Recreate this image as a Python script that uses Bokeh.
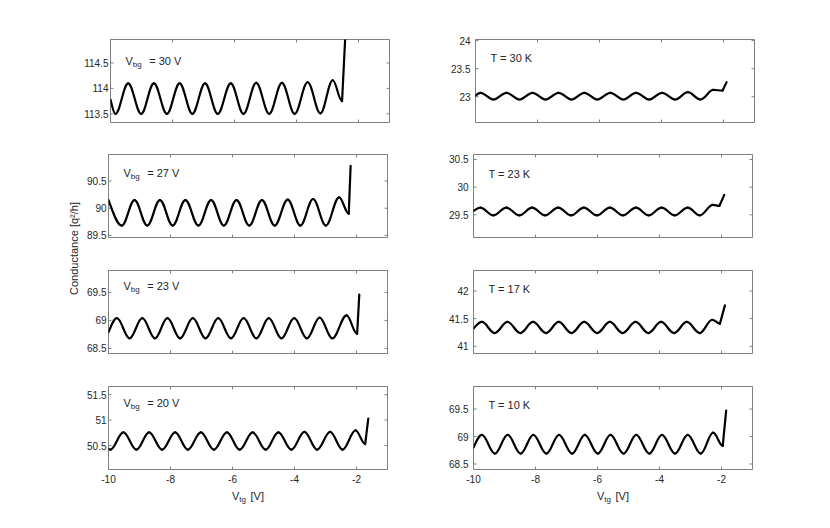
import numpy as np
from bokeh.plotting import figure
from bokeh.models import Label, FixedTicker, Range1d
from bokeh.core.properties import value
from bokeh.layouts import row, column
from bokeh.embed import file_html
from bokeh.resources import INLINE

# ---------------- data (turning points) ----------------
x_ticks = [-10, -8, -6, -4, -2]
x_range_v = [-10, -1]

vbg_values = ["30", "27", "23", "20"]
temp_values = ["30", "23", "17", "10"]

# V_bg = 30 V
vbg30_x = [-10.00, -9.84, -9.43, -9.01, -8.60, -8.18, -7.77, -7.36, -6.95, -6.54, -6.12,
           -5.71, -5.30, -4.88, -4.47, -4.06, -3.64, -3.23, -2.83, -2.53, -2.42]
vbg30_y = [113.78, 113.50, 114.10, 113.50, 114.10, 113.50, 114.10, 113.50, 114.10, 113.50, 114.10,
           113.50, 114.11, 113.50, 114.11, 113.50, 114.12, 113.51, 114.16, 113.75, 115.10]
# V_bg = 27 V
vbg27_x = [-10.00, -9.57, -9.16, -8.75, -8.34, -7.93, -7.52, -7.10, -6.69, -6.28, -5.87,
           -5.46, -5.05, -4.64, -4.22, -3.81, -3.40, -2.99, -2.56, -2.25, -2.19]
vbg27_y = [90.15, 89.68, 90.15, 89.68, 90.15, 89.68, 90.15, 89.68, 90.15, 89.68, 90.15,
           89.68, 90.15, 89.68, 90.16, 89.68, 90.17, 89.68, 90.20, 89.90, 90.78]
# V_bg = 23 V
vbg23_x = [-10.00, -9.73, -9.32, -8.91, -8.50, -8.10, -7.69, -7.28, -6.87, -6.46, -6.05,
           -5.64, -5.23, -4.83, -4.42, -4.01, -3.60, -3.19, -2.78, -2.32, -1.98, -1.91]
vbg23_y = [68.79, 69.04, 68.68, 69.04, 68.68, 69.04, 68.68, 69.04, 68.68, 69.04, 68.68,
           69.04, 68.68, 69.04, 68.68, 69.04, 68.68, 69.05, 68.68, 69.09, 68.76, 69.46]
# V_bg = 20 V
vbg20_x = [-10.00, -9.94, -9.52, -9.10, -8.69, -8.27, -7.85, -7.44, -7.02, -6.60, -6.18, -5.77,
           -5.35, -4.93, -4.52, -4.10, -3.68, -3.27, -2.85, -2.45, -2.03, -1.72, -1.62]
vbg20_y = [50.43, 50.42, 50.76, 50.42, 50.76, 50.42, 50.76, 50.42, 50.76, 50.42, 50.76, 50.42,
           50.76, 50.42, 50.76, 50.42, 50.77, 50.42, 50.77, 50.42, 50.80, 50.53, 51.03]
# T = 30 K
t30_x = [-10.00, -9.84, -9.42, -9.00, -8.58, -8.16, -7.74, -7.32, -6.90, -6.49, -6.07,
         -5.65, -5.23, -4.82, -4.40, -3.98, -3.56, -3.15, -2.74, -2.33, -2.03, -1.90]
t30_y = [23.02, 23.07, 22.95, 23.07, 22.95, 23.07, 22.95, 23.07, 22.95, 23.07, 22.95,
         23.07, 22.95, 23.07, 22.95, 23.07, 22.95, 23.08, 22.95, 23.12, 23.11, 23.26]
# T = 23 K
t23_x = [-10.00, -9.78, -9.36, -8.94, -8.52, -8.11, -7.69, -7.27, -6.85, -6.44, -6.02,
         -5.60, -5.18, -4.76, -4.35, -3.93, -3.51, -3.09, -2.70, -2.28, -2.07, -1.91]
t23_y = [29.57, 29.63, 29.49, 29.63, 29.49, 29.63, 29.49, 29.63, 29.49, 29.63, 29.49,
         29.63, 29.49, 29.63, 29.49, 29.63, 29.49, 29.63, 29.49, 29.68, 29.66, 29.86]
# T = 17 K
t17_x = [-10.00, -9.73, -9.32, -8.90, -8.49, -8.08, -7.66, -7.25, -6.84, -6.43, -6.01,
         -5.60, -5.19, -4.77, -4.36, -3.95, -3.53, -3.12, -2.70, -2.30, -2.05, -1.89]
t17_y = [41.32, 41.44, 41.24, 41.44, 41.24, 41.44, 41.24, 41.44, 41.24, 41.44, 41.24,
         41.44, 41.24, 41.44, 41.24, 41.44, 41.24, 41.44, 41.24, 41.48, 41.41, 41.74]
# T = 10 K
t10_x = [-10.00, -9.73, -9.31, -8.90, -8.48, -8.07, -7.65, -7.24, -6.82, -6.41, -5.99,
         -5.58, -5.16, -4.75, -4.33, -3.92, -3.50, -3.09, -2.67, -2.27, -1.96, -1.85]
t10_y = [68.80, 69.03, 68.69, 69.03, 68.69, 69.03, 68.69, 69.03, 68.69, 69.03, 68.69,
         69.03, 68.69, 69.03, 68.69, 69.03, 68.69, 69.03, 68.69, 69.07, 68.83, 69.47]

# y-limits and y-ticks of each panel
vbg_ylims = [[113.33, 114.96], [89.46, 90.99], [68.41, 69.89], [50.03, 51.66]]
vbg_yticks = [[113.5, 114, 114.5], [89.5, 90, 90.5], [68.5, 69, 69.5], [50.5, 51, 51.5]]
t_ylims = [[22.54, 24.02], [29.09, 30.59], [40.87, 42.37], [68.40, 69.91]]
t_yticks = [[23, 23.5, 24], [29.5, 30, 30.5], [41, 41.5, 42], [68.5, 69, 69.5]]

vbg_series = [(vbg30_x, vbg30_y), (vbg27_x, vbg27_y), (vbg23_x, vbg23_y), (vbg20_x, vbg20_y)]
t_series = [(t30_x, t30_y), (t23_x, t23_y), (t17_x, t17_y), (t10_x, t10_y)]

# ---------------- styling / layout ----------------
FONT = "Liberation Sans"
TXT = "#262626"
BOX = "#808080"
FW, FH = 279, 83
K = 0.364
TICK_PX = 3
LAB_W = 81
L_LEFT, L_RIGHT = 27, 8
R_LEFT, R_RIGHT = 78, 8
STRIP_H = 20

borders_tb = [(39, 9), (23, 9), (24, 9), (24, 20)]
vbg_label_dy = [21, 18, 15, 16]
t_label_dy = [18, 19, 18, 18]


def draw_curve(p, xs, ys):
    xs = np.asarray(xs, dtype=float)
    ys = np.asarray(ys, dtype=float)
    x0, x1 = xs[:-2], xs[1:-1]
    y0, y1 = ys[:-2], ys[1:-1]
    dx = x1 - x0
    cy0 = y0.copy()
    cy0[0] = y0[0] + 0.5 * (y1[0] - y0[0])
    p.bezier(x0=x0, y0=y0, x1=x1, y1=y1, cx0=x0 + K * dx, cy0=cy0,
             cx1=x1 - K * dx, cy1=y1.copy(), line_color="black", line_width=2.2,
             line_cap="round")
    p.line(xs[-2:], ys[-2:], line_color="black", line_width=2.2, line_cap="round")


def make_panel(xs, ys, ylim, yticks, top, bottom, left_border, right_border, standoff, last_row):
    p = figure(frame_width=FW, frame_height=FH,
               x_range=Range1d(*x_range_v), y_range=Range1d(*ylim),
               output_backend="svg", toolbar_location=None,
               min_border_left=left_border, min_border_right=right_border,
               min_border_top=top, min_border_bottom=bottom,
               x_axis_location="below" if last_row else None)
    p.xgrid.visible = False
    p.ygrid.visible = False
    p.outline_line_color = BOX
    p.outline_line_width = 1
    p.background_fill_color = "white"
    p.border_fill_color = "white"

    ya = p.yaxis[0]
    ya.ticker = FixedTicker(ticks=yticks)
    ya.major_label_overrides = {float(t): f"{t:g}" for t in yticks}
    ya.major_tick_in = 0
    ya.major_tick_out = 0
    ya.minor_tick_line_color = None
    ya.axis_line_color = None
    ya.major_label_text_font = FONT
    ya.major_label_text_font_size = "10px"
    ya.major_label_text_color = TXT
    ya.major_label_standoff = standoff
    if last_row:
        xa = p.xaxis[0]
        xa.ticker = FixedTicker(ticks=x_ticks)
        xa.major_label_overrides = {t: f"{t:d}" for t in x_ticks}
        xa.major_tick_in = 0
        xa.major_tick_out = 0
        xa.minor_tick_line_color = None
        xa.axis_line_color = None
        xa.major_label_text_font = FONT
        xa.major_label_text_font_size = "10px"
        xa.major_label_text_color = TXT
        xa.major_label_standoff = 5

    # inward ticks on all four sides
    xr0, xr1 = x_range_v
    yr0, yr1 = ylim
    ddx = TICK_PX * (xr1 - xr0) / FW
    ddy = TICK_PX * (yr1 - yr0) / FH
    n = len(x_ticks)
    p.segment(x0=x_ticks, y0=[yr0] * n, x1=x_ticks, y1=[yr0 + ddy] * n, line_color=BOX, line_width=1)
    p.segment(x0=x_ticks, y0=[yr1] * n, x1=x_ticks, y1=[yr1 - ddy] * n, line_color=BOX, line_width=1)
    m = len(yticks)
    p.segment(x0=[xr0] * m, y0=yticks, x1=[xr0 + ddx] * m, y1=yticks, line_color=BOX, line_width=1)
    p.segment(x0=[xr1] * m, y0=yticks, x1=[xr1 - ddx] * m, y1=yticks, line_color=BOX, line_width=1)

    draw_curve(p, xs, ys)
    return p


def make_strip(left_border, right_border):
    s = figure(frame_width=FW, frame_height=STRIP_H, x_range=Range1d(*x_range_v),
               y_range=Range1d(0, STRIP_H), x_axis_type=None, y_axis_type=None,
               output_backend="svg", toolbar_location=None,
               min_border_left=left_border, min_border_right=right_border,
               min_border_top=0, min_border_bottom=0)
    s.outline_line_color = None
    s.xgrid.visible = False
    s.ygrid.visible = False
    xc = (x_range_v[0] + x_range_v[1]) / 2
    common = dict(text_font=value(FONT), text_color=TXT, text_baseline="middle")
    s.text(x=[xc], y=[STRIP_H - 6], text=["V"], x_offset=-16, text_font_size="11px", **common)
    s.text(x=[xc], y=[STRIP_H - 10], text=["tg"], x_offset=-8.7, text_font_size="8px", **common)
    s.text(x=[xc], y=[STRIP_H - 6], text=["[V]"], x_offset=2.5, text_font_size="11px", **common)
    return s


rows = []
for i in range(4):
    top, bottom = borders_tb[i]
    last = i == 3
    lx, ly = vbg_series[i]
    rx, ry = t_series[i]
    pl = make_panel(lx, ly, vbg_ylims[i], vbg_yticks[i], top, bottom, L_LEFT, L_RIGHT, 2, last)
    pr = make_panel(rx, ry, t_ylims[i], t_yticks[i], top, bottom, R_LEFT, R_RIGHT, 5, last)

    cl = dict(x=x_range_v[0], y=vbg_ylims[i][1], text_font=FONT, text_color=TXT,
              text_baseline="middle")
    dyl = -vbg_label_dy[i]
    pl.add_layout(Label(text="V", x_offset=15, y_offset=dyl, text_font_size="11px", **cl))
    pl.add_layout(Label(text="bg", x_offset=22.3, y_offset=dyl - 4, text_font_size="8px", **cl))
    pl.add_layout(Label(text="= " + vbg_values[i] + " V", x_offset=38.7, y_offset=dyl,
                        text_font_size="11px", **cl))
    cr = dict(x=x_range_v[0], y=t_ylims[i][1], text_font=FONT, text_color=TXT,
              text_baseline="middle")
    pr.add_layout(Label(text="T = " + temp_values[i] + " K", x_offset=15, y_offset=-t_label_dy[i],
                        text_font_size="11px", **cr))
    rows.append(row(pl, pr))

rows.append(row(make_strip(L_LEFT, L_RIGHT), make_strip(R_LEFT, R_RIGHT)))

total_h = sum(t + FH + b for t, b in borders_tb) + STRIP_H
lab = figure(width=LAB_W, height=total_h, x_range=Range1d(0, LAB_W), y_range=Range1d(0, total_h),
             x_axis_type=None, y_axis_type=None, output_backend="svg", toolbar_location=None,
             min_border=0)
lab.outline_line_color = None
lab.xgrid.visible = False
lab.ygrid.visible = False
lab.add_layout(Label(x=73.5, y=total_h - 248, text="Conductance [q²/h]", angle=np.pi / 2,
                     text_align="center", text_baseline="middle", text_font=FONT,
                     text_font_size="11px", text_color=TXT))

p = row(lab, column(*rows))
open("out.html", "w").write(file_html(p, INLINE))
